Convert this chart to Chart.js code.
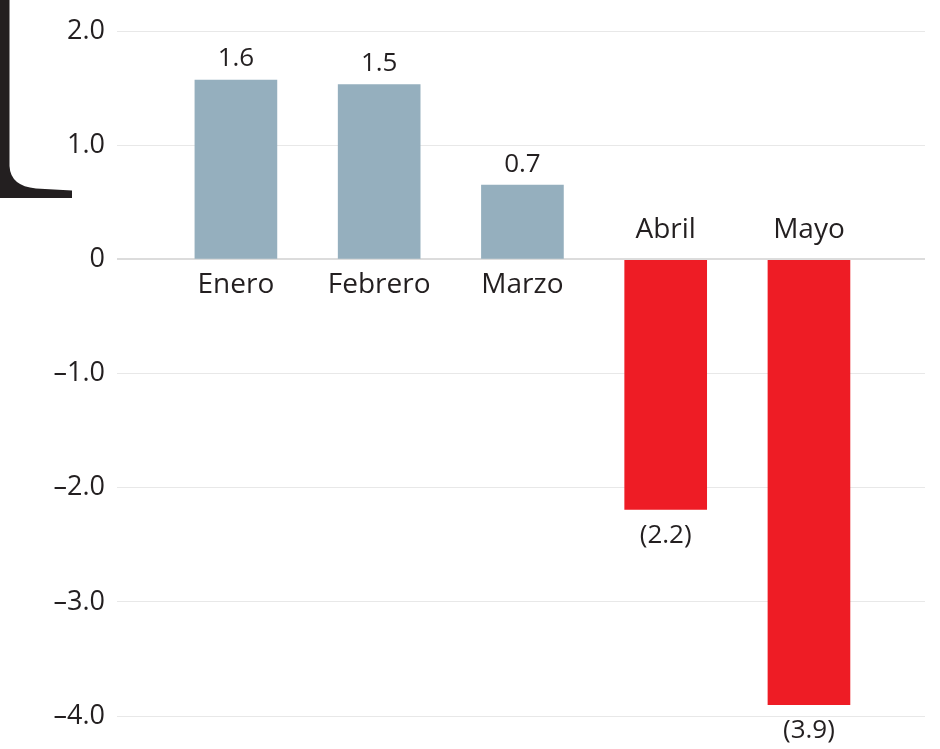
<!DOCTYPE html>
<html>
<head>
<meta charset="utf-8">
<script src="https://cdn.jsdelivr.net/npm/chart.js@4/dist/chart.umd.min.js"></script>
<style>
  body { margin: 0; background: #fff; }
  #wrap { width: 940px; height: 749px; position: relative; }
</style>
</head>
<body>
<div id="wrap"><canvas id="chart"></canvas></div>
<script>
// datos
const categories = ["Enero", "Febrero", "Marzo", "Abril", "Mayo"];
const values = [1.57, 1.53, 0.65, -2.19, -3.9];
const valueLabels = ["1.6", "1.5", "0.7", "(2.2)", "(3.9)"];
const yTicks = [2, 1, 0, -1, -2, -3, -4];

const textColor = "#231f20";
const fontFamily = "'Open Sans', sans-serif";

// etiquetas de valor y de mes junto a cada barra
const barLabels = {
  id: "barLabels",
  afterDatasetsDraw(chart) {
    const ctx = chart.ctx;
    const meta = chart.getDatasetMeta(0);
    ctx.save();
    ctx.fillStyle = textColor;
    ctx.textAlign = "center";
    meta.data.forEach((bar, i) => {
      const pos = values[i] >= 0;
      ctx.font = "26px " + fontFamily;
      if (pos) {
        ctx.textBaseline = "bottom";
        ctx.fillText(valueLabels[i], bar.x, bar.y - 8);
      } else {
        ctx.textBaseline = "top";
        ctx.fillText(valueLabels[i], bar.x, bar.y + 13);
      }
      ctx.font = "28px " + fontFamily;
      if (pos) {
        ctx.textBaseline = "top";
        ctx.fillText(categories[i], bar.x, bar.base + 13);
      } else {
        ctx.textBaseline = "bottom";
        ctx.fillText(categories[i], bar.x, bar.base - 16);
      }
    });
    ctx.restore();
  }
};

// corchete negro de la esquina superior izquierda
const bracket = {
  id: "bracket",
  afterDraw(chart) {
    const ctx = chart.ctx;
    ctx.save();
    ctx.fillStyle = textColor;
    ctx.beginPath();
    ctx.moveTo(0, 0);
    ctx.lineTo(9.5, 0);
    ctx.lineTo(9.5, 166);
    ctx.quadraticCurveTo(10.5, 186, 36, 188.5);
    ctx.lineTo(72, 190.5);
    ctx.lineTo(72, 198);
    ctx.lineTo(0, 198);
    ctx.closePath();
    ctx.fill();
    ctx.restore();
  }
};

new Chart(document.getElementById("chart"), {
  type: "bar",
  data: {
    datasets: [{
      data: values.map((v, i) => ({ x: i, y: v })),
      backgroundColor: values.map(v => v >= 0 ? "#95afbe" : "#ee1c25"),
      barThickness: 82,
      borderWidth: 0
    }]
  },
  options: {
    responsive: true,
    maintainAspectRatio: false,
    animation: false,
    layout: { padding: { top: 31, bottom: 33, right: 15, left: 0 } },
    plugins: { legend: { display: false }, tooltip: { enabled: false } },
    scales: {
      x: {
        type: "linear",
        display: false,
        offset: false,
        min: -0.83,
        max: 4.81
      },
      y: {
        min: -4,
        max: 2,
        afterFit(scale) { scale.width = 117; },
        afterBuildTicks(scale) { scale.ticks = yTicks.map(v => ({ value: v })); },
        border: { display: false },
        grid: {
          drawTicks: false,
          color: ctx => ctx.tick && ctx.tick.value === 0 ? "#dcdcdc" : "#e8e8e8",
          lineWidth: ctx => ctx.tick && ctx.tick.value === 0 ? 2 : 1
        },
        ticks: {
          padding: 12,
          color: textColor,
          font: { family: fontFamily, size: 27 },
          callback: v => v === 0 ? "0" : (v < 0 ? "\u2013" + Math.abs(v).toFixed(1) : v.toFixed(1))
        }
      }
    }
  },
  plugins: [barLabels, bracket]
});
</script>
</body>
</html>
